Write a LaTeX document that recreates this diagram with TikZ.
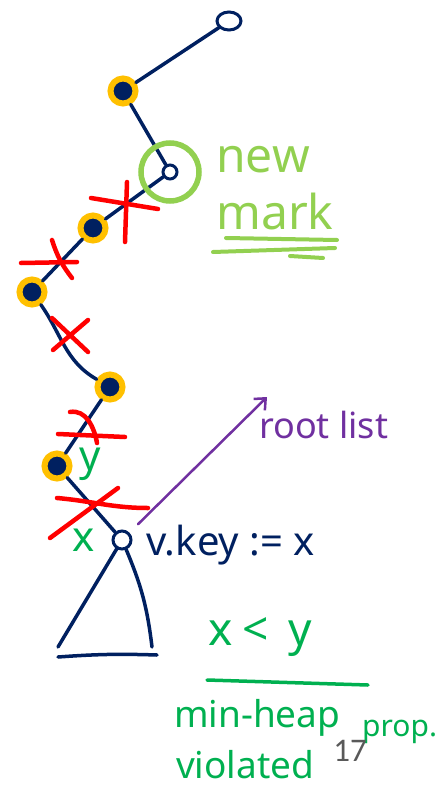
\documentclass[tikz,border=0pt]{standalone}
\usepackage{fontspec}
\setmainfont{Noto Sans}
\newfontfamily\slidefont{Carlito}
\usetikzlibrary{arrows.meta,shapes.geometric}
\definecolor{navy}{HTML}{002060}
\definecolor{gold}{HTML}{FFC000}
\definecolor{lgreen}{HTML}{92D050}
\definecolor{dgreen}{HTML}{00B050}
\definecolor{violet}{HTML}{7030A0}

\begin{document}
\begin{tikzpicture}[x=1pt,y=-1pt,line cap=round,>={Straight Barb[length=9pt,width=16pt]},
  plain/.style={circle,draw=navy,line width=3pt,minimum size=14pt,inner sep=0pt},
  marked/.style={circle,fill=navy,draw=gold,line width=6pt,minimum size=25pt,inner sep=0pt},
  edge/.style={draw=navy,line width=3.5pt},
  cut/.style={draw=red,line width=4.5pt},
  note/.style={inner sep=0pt,font=\fontsize{#1}{#1}\selectfont}]
\useasboundingbox (0,0) rectangle (440,789);
% the path up to the root
\node[plain,ellipse,minimum width=24pt,minimum height=18pt] (n1) at (229,21) {};
\node[marked] (n2) at (123,91) {};
\node[plain] (n3) at (170,172) {};
\node[marked] (n4) at (93,228) {};
\node[marked] (n5) at (32,292) {};
\node[marked] (n6) at (110,387) {};
\node[marked] (n7) at (57,466) {};
\node[plain,minimum size=18pt] (n8) at (122,540) {};
\draw[edge] (n1) -- (n2);
\draw[edge] (n2) -- (n3);
\draw[edge] (n3) -- (n4);
\draw[edge] (n4) -- (n5);
\draw[edge] (n5) to[out=-55,in=150] (n6);
\draw[edge] (n6) -- (n7);
\draw[edge] (n7) -- (n8);
\draw[lgreen,line width=5.5pt] (n3) circle (29);
% cut edges
\draw[cut] (91,198) -- (158,209) (127,182) -- (125,242);
\draw[cut] (21,263) -- (77,262) (52,240) to[bend right=10] (72,278);
\draw[cut] (52,318) -- (88,352) (88,320) -- (53,350);
\draw[cut] (58,434) -- (125,437) (70,412) to[out=10,in=100] (97,443);
\draw[cut] (57,498) to[out=-5,in=180] (148,508) (118,488) -- (50,538);
% subtree of x
\node[note=42,text=dgreen] (y) at (90,464) {y};
\node[note=42,text=dgreen] (x) at (84,540) {x};
\node[note=40,text=navy,anchor=base west] (key) at (146,555) {v.key := x};
\draw[edge] (n8) -- (58,647);
\draw[edge] (n8) to[bend left=8] (152,647);
\draw[edge] (58,657) to[bend left=3] (157,655);
% moved to root list
\node[note=36,text=violet,anchor=base west] (root) at (259,438) {root list};
\coordinate (tip) at (267,397);
\draw[->,violet,line width=2.5pt,shorten <=12pt] (n8) -- (tip);
% new mark
\node[note=48,text=lgreen,anchor=base west] (new) at (216,172) {new};
\node[note=48,text=lgreen,anchor=base west] (mark) at (216,229) {mark};
\draw[lgreen,line width=4pt] (226,238) -- (337,240) (213,252) -- (335,248) (290,256) -- (323,258);
% conclusion
\node[note=46,text=dgreen,anchor=base west] (cmp) at (208,645) {x\hspace{10pt}<\hspace{20pt}y};
\draw[dgreen,line width=3.5pt] (207,680) -- (368,685);
\node[note=37,text=dgreen,anchor=base west] (heap) at (174,727) {min-heap};
\node[note=30,text=dgreen,anchor=base west] (prop) at (362,736) {prop.};
\node[note=37,text=dgreen,anchor=base west] (viol) at (176,778) {violated};
\node[inner sep=0pt,text=black!65,font=\slidefont\fontsize{33}{33}\selectfont] (page) at (350,751) {17};
\end{tikzpicture}
\end{document}
